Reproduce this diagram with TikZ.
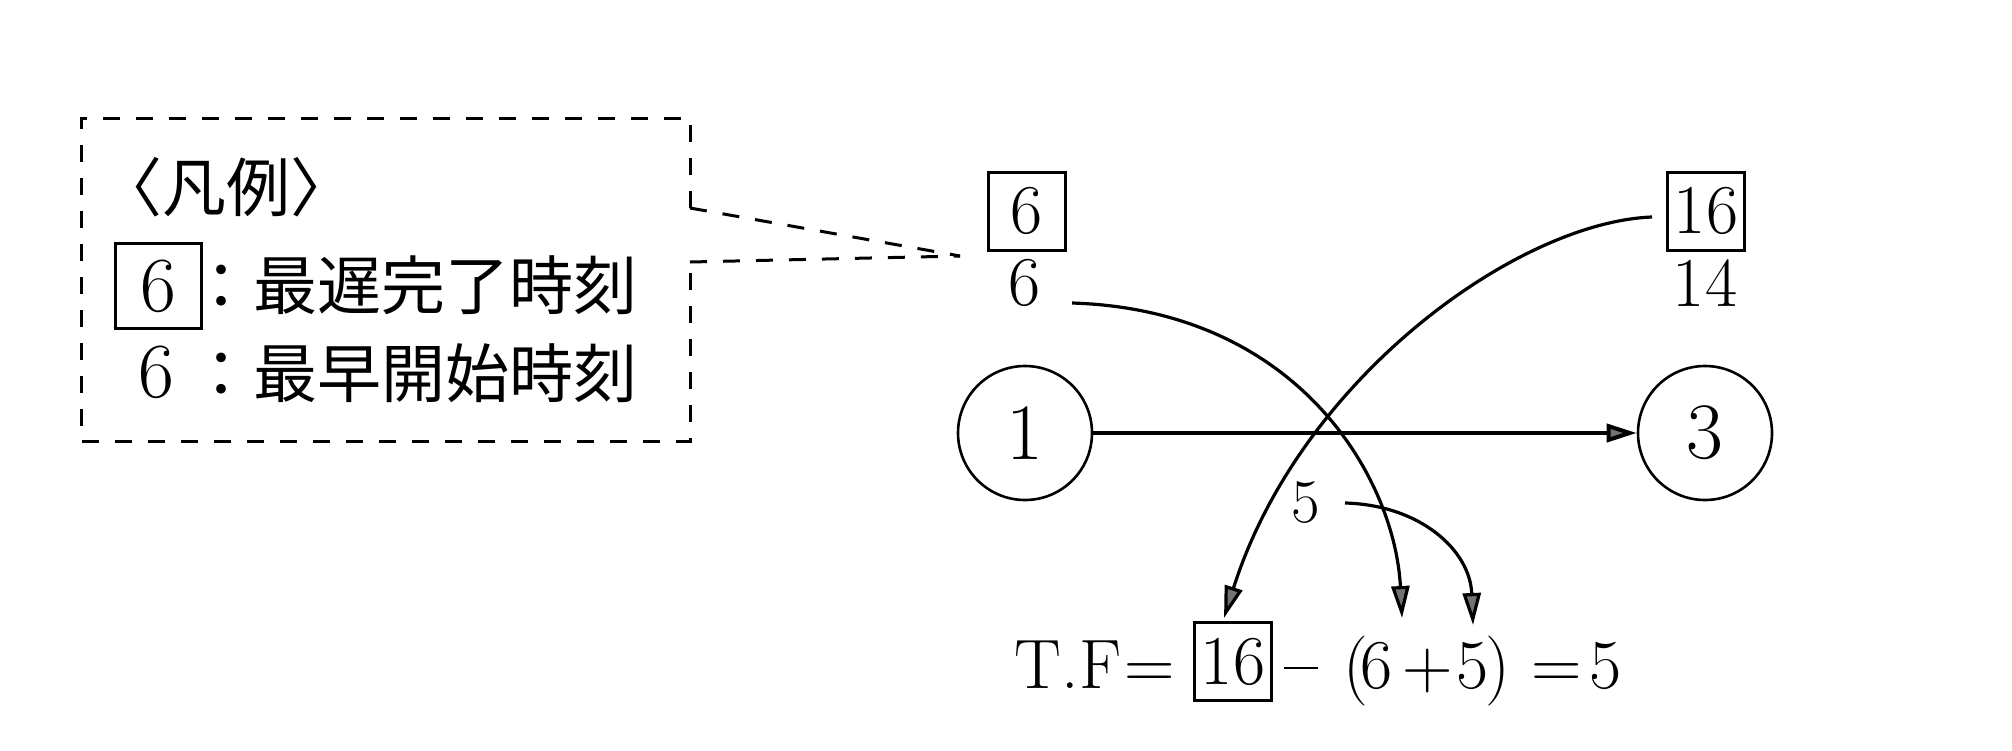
\documentclass[tikz,border=0pt]{standalone}
\usepackage{fontspec}
\newfontfamily\cjk{Noto Sans CJK JP}
\usetikzlibrary{arrows.meta}
\begin{document}
\begin{tikzpicture}[x=0.5pt,y=-0.5pt,
  dsh/.style={draw,line width=1.5pt,dash pattern=on 8.5pt off 8pt},
  numbox/.style={draw,line width=1.5pt,inner sep=0pt,minimum width=38.5pt,minimum height=39pt,font=\fontsize{35}{40}\selectfont},
  num/.style={inner sep=0pt,font=\fontsize{35}{40}\selectfont},
  jtxt/.style={inner sep=0pt,anchor=west,font=\cjk\fontsize{32}{36}\selectfont},
  circ/.style={draw,circle,line width=1.3pt,minimum size=67pt,inner sep=0pt,font=\fontsize{40}{44}\selectfont},
  tip/.style={-{Triangle[length=16pt,width=9pt,fill=black!55]}},
  curve/.style={tip,line width=1.6pt},
  fm/.style={anchor=base,inner sep=0pt,font=\fontsize{35}{40}\selectfont}
]
\path[use as bounding box] (0,0) rectangle (2012,750);

% legend box
\coordinate (lu) at (690,208);
\coordinate (ll) at (690,262);
\coordinate (lp) at (960,256);
\draw[dsh] (lu) -- (690,118) -- (81,118) -- (81,441) -- (690,441) -- (ll);
\draw[dsh] (lu) -- (lp);
\draw[dsh] (ll) -- (lp);

\node[jtxt] (title) at (98,187) {〈凡例〉};
\node[numbox, minimum width=43pt, minimum height=42.5pt, font=\fontsize{39}{44}\selectfont] (lb6) at (158,286) {6};
\node[jtxt] (l1) at (189,285) {：最遅完了時刻};
\node[num, font=\fontsize{39}{44}\selectfont] (l6) at (156,372) {6};
\node[jtxt] (l2) at (189,373) {：最早開始時刻};

% network
\node[numbox] (b6) at (1027,211) {6};
\node[num] (e6) at (1025,283) {6};
\node[numbox] (b16) at (1706,211) {16};
\node[num] (e14) at (1705,283) {14};
\node[circ] (c1) at (1025,433) {1};
\node[circ] (c3) at (1705,433) {3};
\node[num, font=\fontsize{31}{35}\selectfont] (l5) at (1306,503) {5};

\draw[line width=2pt, -{Triangle[length=15pt,width=9pt,fill=black!55]}] (c1) -- (c3);

% formula
\node[fm] (ftf) at (1068,688) {T.F};
\node[fm] (feq) at (1150,688) {=};
\node[numbox] (fb16) at (1233,661.5) {16};
\node[fm] (fmin) at (1301,688) {\rule[9.5pt]{17pt}{1.2pt}};
\node[fm] (flp) at (1356,688) {(};
\node[fm] (f6) at (1377,688) {6};
\node[fm] (fpl) at (1428,688) {+};
\node[fm] (f5) at (1473,688) {5};
\node[fm] (frp) at (1498,688) {)};
\node[fm] (feq2) at (1557,688) {=};
\node[fm] (fr) at (1606,688) {5};

% curved arrows
\draw[curve] ([shift={(47,20)}]e6.center) .. controls +(228,7) and +(-7,-138) .. ([shift={(25,-70)}]f6.base);
\draw[curve] ([shift={(-14,6)}]b16.west) .. controls +(-134,5) and +(76,-240) .. ([shift={(-9,-3)}]fb16.north);
\draw[curve] ([shift={(39,0)}]l5.center) .. controls +(75,2) and +(-3,-75) .. ([shift={(0,-63)}]f5.base);
\end{tikzpicture}
\end{document}
